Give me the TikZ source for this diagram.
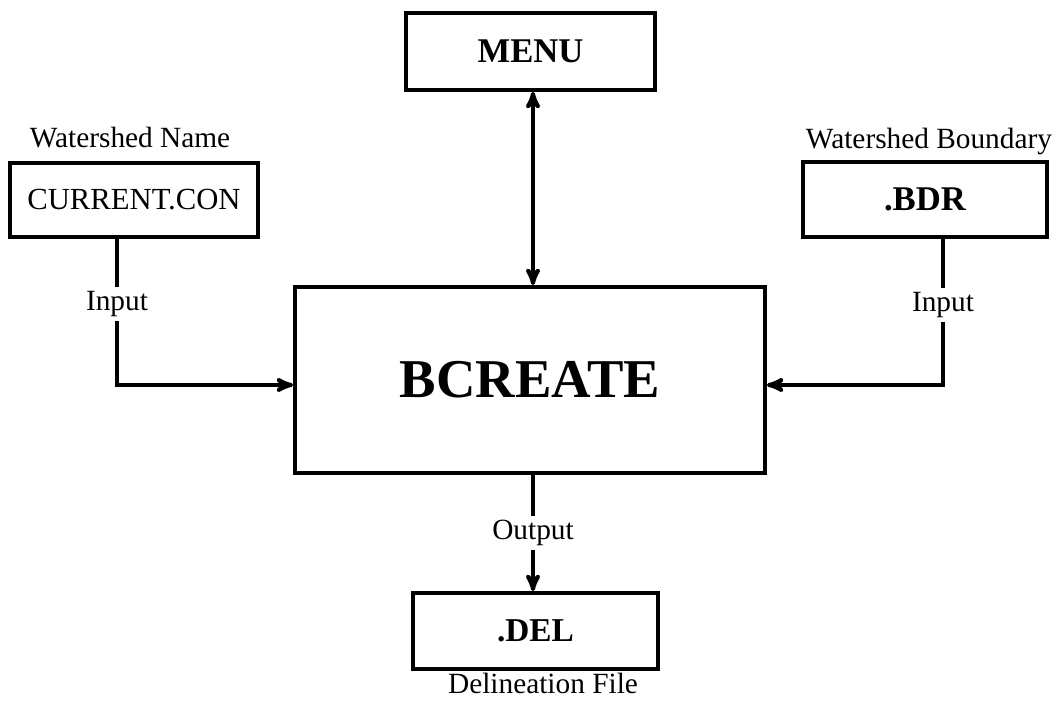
\documentclass[tikz,border=0pt]{standalone}
\usepackage{fontspec}
\setmainfont{Liberation Serif}
\usetikzlibrary{arrows,positioning,calc}
\newcommand{\lblfont}{\fontsize{22}{24}\selectfont}

\begin{document}
\begin{tikzpicture}[->,>=stealth',x=0.75pt,y=-0.75pt,line width=3pt]
  \tikzstyle{filebox}=[rectangle,draw,line width=2.8pt,inner sep=0pt,fill=white]
  \tikzstyle{caption}=[font=\lblfont,inner sep=0pt,anchor=base]
  \tikzstyle{onwire}=[font=\lblfont,fill=white,inner sep=3pt]
  \useasboundingbox (0,0) rectangle (1058,706);

  % main module and files
  \node[filebox,minimum width=352.5pt,minimum height=139.5pt,font=\fontsize{41}{44}\selectfont\bfseries] (bcreate) at (530,380) {BCREATE};
  \node[filebox,minimum width=186.75pt,minimum height=57.75pt,font=\fontsize{26}{28}\selectfont\bfseries] (menu) at (530.5,51.5) {MENU};
  \node[filebox,minimum width=186pt,minimum height=55.5pt,font=\fontsize{23}{25}\selectfont] (con) at (134,200) {CURRENT.CON};
  \node[filebox,minimum width=183pt,minimum height=56.25pt,font=\fontsize{26}{28}\selectfont\bfseries] (bdr) at (925,199.5) {.BDR};
  \node[filebox,minimum width=183.75pt,minimum height=57pt,font=\fontsize{25}{27}\selectfont\bfseries] (del) at (535.5,631) {.DEL};

  \node[caption] (conname) at (130,148) {Watershed Name};
  \node[caption] (bdrname) at (929,149) {Watershed Boundary};
  \node[caption] (delname) at (543,693) {Delineation File};

  % connections
  \draw[<->] ([xshift=2.25pt]menu.south -| bcreate.north) -- ([xshift=2.25pt]bcreate.north);
  \draw ([xshift=-12.75pt]con.south) |- node[onwire,pos=0.223] {Input} ([yshift=-3.75pt]bcreate.west);
  \draw ([xshift=13.5pt]bdr.south) |- node[onwire,pos=0.226] {Input} ([yshift=-3.75pt]bcreate.east);
  \draw ([xshift=2.25pt]bcreate.south) -- node[onwire] {Output} ([xshift=2.25pt]bcreate.south |- del.north);
\end{tikzpicture}
\end{document}
